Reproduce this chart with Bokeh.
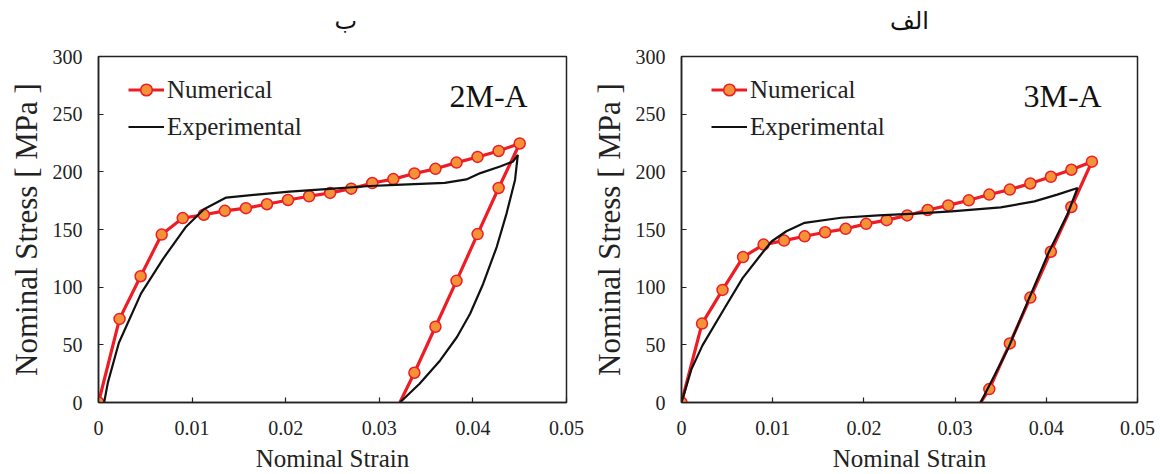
from bokeh.plotting import figure
from bokeh.models import Range1d, FixedTicker, Label, Legend, LegendItem, NumeralTickFormatter, Title
from bokeh.layouts import row
from bokeh.embed import file_html
from bokeh.resources import INLINE

# ---------------- data ----------------
# Panel ب : 2M-A
num_strain_2M = [0, 0.00225, 0.0045, 0.00675, 0.009, 0.01125, 0.0135, 0.01575, 0.018, 0.02025,
                 0.0225, 0.02475, 0.027, 0.02925, 0.0315, 0.03375, 0.036, 0.03825, 0.0405, 0.04275,
                 0.045, 0.04275, 0.0405, 0.03825, 0.036, 0.03375, 0.0322]
num_stress_2M = [0, 72.5, 109.5, 145.6, 159.9, 162.8, 166.2, 168.5, 171.9, 175.6,
                 178.8, 181.7, 185.4, 190.3, 193.7, 198.6, 202.6, 208.0, 212.9, 218.1,
                 224.6, 186.0, 146.0, 105.5, 65.7, 25.8, 0]
exp_strain_2M = [0.0006, 0.001, 0.00217, 0.00455, 0.0069, 0.0093, 0.01126, 0.01364, 0.0172, 0.0204,
                 0.0247, 0.029, 0.0318, 0.037, 0.0393, 0.0408, 0.0429, 0.0443, 0.0448, 0.0445,
                 0.0436, 0.04255, 0.0411, 0.0397, 0.0383, 0.0365, 0.0343, 0.0322]
exp_stress_2M = [0, 17.2, 51.6, 94.6, 124.6, 151.9, 167.6, 177.7, 180.5, 182.8,
                 185.3, 187.7, 188.7, 190.5, 193.4, 198.9, 204.6, 209.0, 214.8, 193.0,
                 164.0, 135.0, 103.0, 77.0, 56.8, 36.5, 16.2, 0]

# Panel الف : 3M-A
num_strain_3M = [0, 0.00225, 0.0045, 0.00675, 0.009, 0.01125, 0.0135, 0.01575, 0.018, 0.02025,
                 0.0225, 0.02475, 0.027, 0.02925, 0.0315, 0.03375, 0.036, 0.03825, 0.0405, 0.04275,
                 0.045, 0.04275, 0.0405, 0.03825, 0.036, 0.03375, 0.0328]
num_stress_3M = [0, 68.4, 97.6, 126.1, 136.9, 140.4, 144.1, 147.6, 150.6, 154.9,
                 158.1, 162.2, 166.9, 170.9, 175.3, 180.3, 184.6, 189.9, 195.7, 201.8,
                 208.8, 169.5, 130.7, 91.0, 51.2, 11.6, 0]
exp_strain_3M = [0, 0.0011, 0.0023, 0.0047, 0.0067, 0.0087, 0.0099, 0.0115, 0.0135, 0.0175,
                 0.0216, 0.0256, 0.0296, 0.035, 0.0387, 0.0412, 0.04343, 0.0423, 0.0403, 0.0381,
                 0.0358, 0.0343, 0.0328]
exp_stress_3M = [0, 29.1, 49.5, 81.5, 107.8, 128.1, 139.8, 148.5, 155.8, 160.2,
                 162.2, 163.7, 165.7, 169.2, 174.4, 180.2, 186.0, 162.8, 130.8, 90.0,
                 46.5, 23.3, 0]

x_ticks = [0, 0.01, 0.02, 0.03, 0.04, 0.05]
y_ticks = [0, 50, 100, 150, 200, 250, 300]

panel_titles = ["ب", "الف"]
specimen_labels = ["2M-A", "3M-A"]
x_label = "Nominal Strain"
y_label = "Nominal Stress [ MPa ]"
series_names = ["Numerical", "Experimental"]

SERIF = "Liberation Serif"
AXIS_SERIF = "'Liberation Serif', serif"
RED = "#ee1c24"
ORANGE = "#f39237"


def make_panel(title, title_align, title_offset, spec, nx, ny, ex, ey, width, border_left, border_right):
    p = figure(width=width, height=474, output_backend="svg", toolbar_location=None,
               x_range=Range1d(0, 0.05), y_range=Range1d(0, 300),
               min_border_left=border_left, min_border_right=border_right,
               min_border_top=56, min_border_bottom=72)
    p.background_fill_color = "white"
    p.border_fill_color = "white"
    p.outline_line_color = "#222222"
    p.outline_line_width = 1.5
    p.xgrid.visible = False
    p.ygrid.visible = False

    # spacer between the frame and the panel caption
    p.add_layout(Title(text=" ", text_font_size="18px", standoff=0), "above")
    p.title.text = title
    p.title.align = title_align
    p.title.offset = title_offset
    p.title.standoff = 0
    p.title.text_font = "DejaVu Sans"
    p.title.text_font_size = "24px"
    p.title.text_font_style = "normal"
    p.title.text_color = "#111111"

    for ax in (p.xaxis[0], p.yaxis[0]):
        ax.axis_line_color = "#222222"
        ax.axis_line_width = 1.5
        ax.major_tick_in = 5
        ax.major_tick_out = 0
        ax.major_tick_line_color = "#222222"
        ax.major_tick_line_width = 1.2
        ax.minor_tick_line_color = None
        ax.major_label_text_font = AXIS_SERIF
        ax.major_label_text_font_size = "20px"
        ax.major_label_text_color = "#222222"
        ax.axis_label_text_font = AXIS_SERIF
        ax.axis_label_text_font_style = "normal"
        ax.axis_label_text_color = "#222222"

    p.xaxis.ticker = FixedTicker(ticks=x_ticks)
    p.xaxis.formatter = NumeralTickFormatter(format="0.[00]")
    p.xaxis.major_label_standoff = 18
    p.xaxis.axis_label = x_label
    p.xaxis.axis_label_text_font_size = "25px"
    p.xaxis.axis_label_standoff = 7

    p.yaxis.ticker = FixedTicker(ticks=y_ticks)
    p.yaxis.major_label_standoff = 16
    p.yaxis.axis_label = y_label
    p.yaxis.axis_label_text_font_size = "31px"
    p.yaxis.axis_label_standoff = 6

    r_line = p.line(nx, ny, line_color=RED, line_width=3.2)
    r_pts = p.scatter(nx[:-1], ny[:-1], size=11, fill_color=ORANGE, line_color=RED, line_width=1.5)
    r_exp = p.line(ex, ey, line_color="#111111", line_width=2.2)

    legend = Legend(items=[LegendItem(label=series_names[0], renderers=[r_line, r_pts]),
                           LegendItem(label=series_names[1], renderers=[r_exp])],
                    location=(30, 261), orientation="vertical",
                    border_line_alpha=0, background_fill_alpha=0,
                    padding=0, margin=0, spacing=8, glyph_width=36, glyph_height=29,
                    label_standoff=3, label_height=29,
                    label_text_font=SERIF, label_text_font_size="25px",
                    label_text_color="#222222")
    p.add_layout(legend)

    p.add_layout(Label(x=0.0375, y=266, text=spec, text_font=SERIF, text_font_size="32px",
                       text_baseline="middle", text_align="left", text_color="#111111"))
    return p


p_left = make_panel(panel_titles[0], "left", 236, specimen_labels[0], num_strain_2M, num_stress_2M,
                    exp_strain_2M, exp_stress_2M, 588, 98, 22)
p_right = make_panel(panel_titles[1], "center", 0, specimen_labels[1], num_strain_3M, num_stress_3M,
                     exp_strain_3M, exp_stress_3M, 572, 90, 23)

layout = row(p_left, p_right)
open("out.html", "w").write(file_html(layout, INLINE))
